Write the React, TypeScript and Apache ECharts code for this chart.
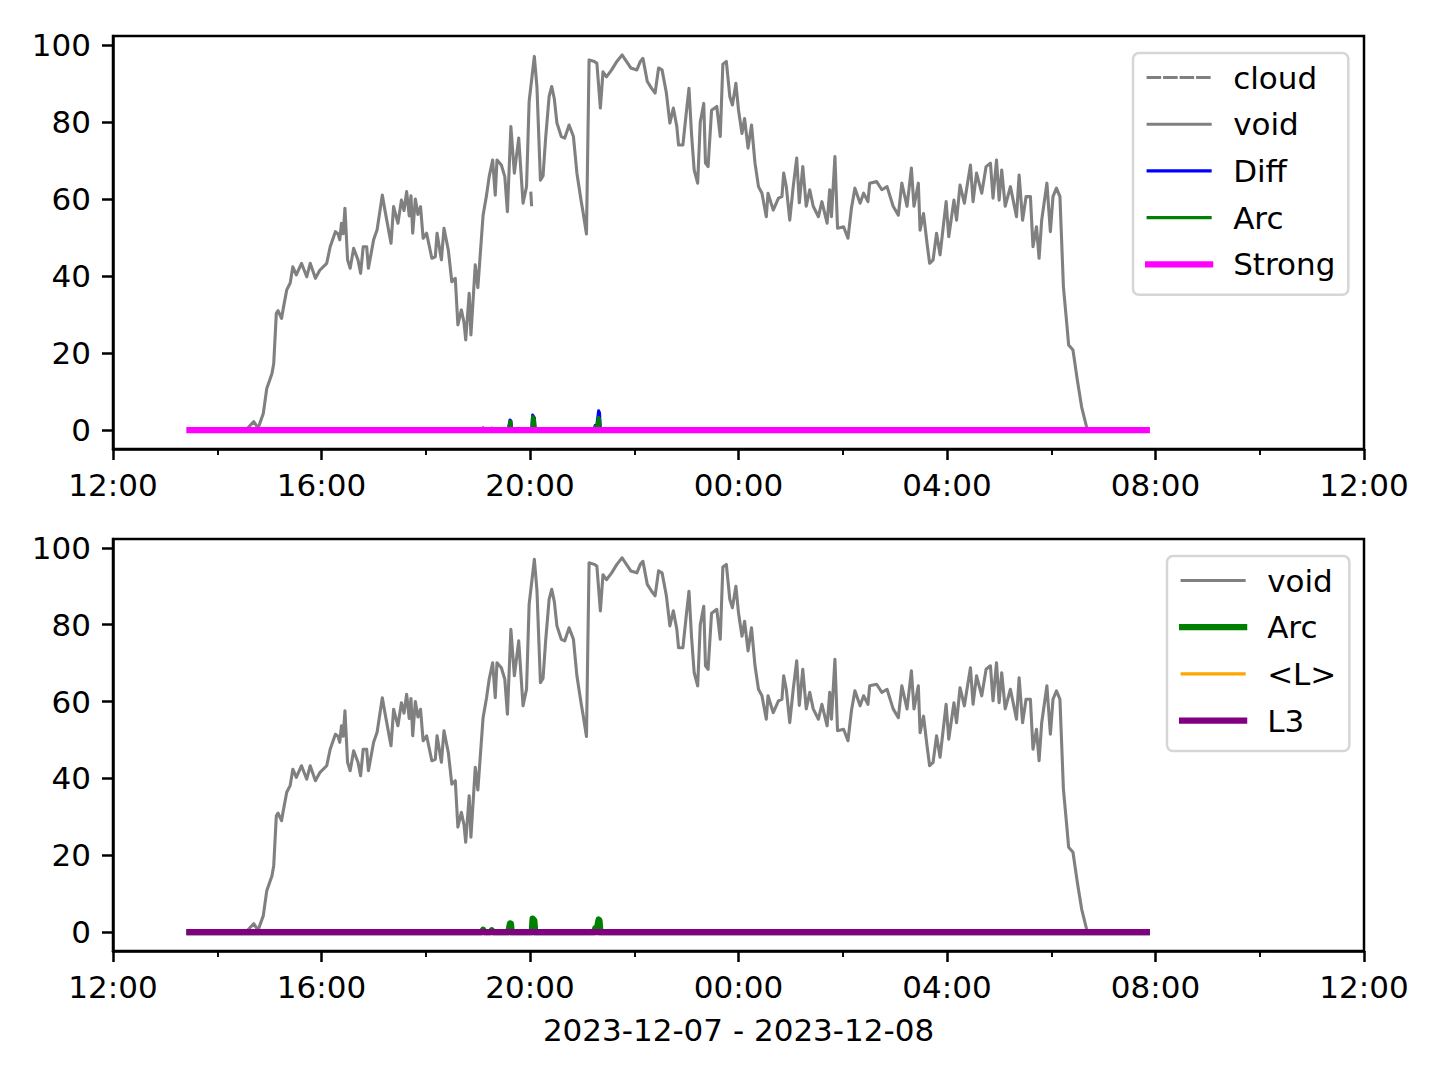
import React, { useEffect, useRef } from "react";
import * as echarts from "echarts";

// ---------- data ----------
const xTickLabels = ["12:00", "16:00", "20:00", "00:00", "04:00", "08:00", "12:00"];
const yTickValues = [0, 20, 40, 60, 80, 100];
const xAxisTitle = "2023-12-07 - 2023-12-08";

const voidTimes = [
  "13:28", "14:26", "14:34", "14:42", "14:47", "14:53", "14:57", "15:03", "15:05", "15:08",
  "15:10", "15:14", "15:16", "15:20", "15:24", "15:27", "15:31", "15:37", "15:43", "15:47",
  "15:53", "15:58", "16:06", "16:10", "16:16", "16:19", "16:21", "16:23", "16:25", "16:27",
  "16:30", "16:33", "16:37", "16:42", "16:45", "16:48", "16:52", "16:54", "17:00", "17:04",
  "17:10", "17:13", "17:20", "17:23", "17:28", "17:32", "17:35", "17:38", "17:41", "17:43",
  "17:45", "17:48", "17:51", "17:54", "17:57", "18:01", "18:07", "18:11", "18:13", "18:18",
  "18:21", "18:26", "18:30", "18:34", "18:37", "18:41", "18:44", "18:46", "18:50", "18:52",
  "18:57", "19:00", "19:06", "19:10", "19:13", "19:17", "19:20", "19:22", "19:27", "19:31",
  "19:34", "19:38", "19:42", "19:47", "19:52", "19:56", "19:59", "20:05", "20:08", "20:12",
  "20:15", "20:18", "20:22", "20:25", "20:28", "20:31", "20:36", "20:40", "20:45", "20:50",
  "20:54", "20:59", "21:01", "21:05", "21:06", "21:08", "21:14", "21:17", "21:21", "21:24",
  "21:28", "21:34", "21:40", "21:46", "21:51", "21:56", "22:03", "22:07", "22:10", "22:15",
  "22:20", "22:24", "22:28", "22:32", "22:37", "22:41", "22:45", "22:49", "22:51", "22:56",
  "23:00", "23:03", "23:06", "23:09", "23:13", "23:16", "23:20", "23:22", "23:25", "23:29",
  "23:35", "23:39", "23:42", "23:46", "23:50", "23:53", "23:57", "00:00", "00:04", "00:07",
  "00:11", "00:15", "00:19", "00:23", "00:27", "00:32", "00:34", "00:40", "00:46", "00:50",
  "00:52", "00:55", "00:59", "01:03", "01:07", "01:10", "01:14", "01:18", "01:22", "01:26",
  "01:32", "01:36", "01:42", "01:45", "01:47", "01:51", "01:54", "02:01", "02:06", "02:10",
  "02:14", "02:20", "02:24", "02:29", "02:31", "02:39", "02:45", "02:51", "02:58", "03:04",
  "03:08", "03:14", "03:19", "03:22", "03:27", "03:29", "03:33", "03:37", "03:40", "03:44",
  "03:48", "03:52", "03:59", "04:02", "04:08", "04:11", "04:15", "04:20", "04:23", "04:27",
  "04:30", "04:34", "04:40", "04:45", "04:50", "04:53", "04:57", "05:00", "05:03", "05:07",
  "05:13", "05:20", "05:23", "05:27", "05:31", "05:36", "05:39", "05:43", "05:46", "05:49",
  "05:55", "05:59", "06:02", "06:06", "06:10", "06:14", "06:18", "06:20", "06:25", "06:30",
  "06:35", "06:41", "06:42", "07:50",
];
const voidValues = [
  0, 0, 0.3, 2.2, 0.5, 4.3, 10.8, 14.7, 17.3, 30.3,
  31, 29, 31.6, 36.4, 38.2, 42.4, 40.3, 43.3, 39.8, 43.3,
  39.4, 41.5, 43.3, 47.6, 51.5, 51, 49.4, 53.7, 51, 57.6,
  44.2, 42, 47.2, 44.2, 40.7, 47.6, 47.6, 42, 49.4, 52,
  61, 57.1, 48.5, 58, 53.7, 59.7, 57, 61.9, 55.6, 60.8,
  51.1, 60, 56, 58, 49.8, 51.1, 44.6, 45, 51.1, 44.2,
  52.4, 46.7, 38.5, 39.4, 27.3, 31.2, 28, 23.4, 35.5, 24.7,
  42.9, 37, 55.8, 61, 65.8, 70.1, 61, 70.1, 68.8, 65.8,
  56.7, 78.8, 66.7, 75.8, 58.9, 63.2, 85.3, 97, 89, 64.9,
  66, 75.8, 86.6, 89.2, 86, 79.7, 76.2, 75.8, 79.2, 76.2,
  66.7, 59.3, 56.7, 50.9, 66, 96.1, 95.7, 95.2, 83.6, 93,
  91.7, 93.5, 95.7, 97.4, 95.7, 94, 93.5, 95.7, 96.5, 90.5,
  88.7, 87.5, 94, 93.5, 87.5, 79.7, 83.6, 78.8, 74, 74,
  82.6, 88.7, 76.6, 67.5, 64.1, 80, 84.8, 69.3, 68.4, 83,
  84, 76.2, 95, 95.7, 86.6, 84.4, 90, 83.1, 77, 80.9,
  73.2, 79.2, 69.3, 63.2, 61.5, 55.4, 61.5, 57.1, 60.2, 60.6,
  66.7, 63.2, 54.5, 63.2, 70.6, 59, 68.4, 58.1, 62.4, 58.1,
  55.4, 59.3, 53.7, 62.4, 55.4, 71, 52.4, 52.8, 49.8, 57.6,
  62.8, 58.9, 61.5, 59.3, 64.1, 64.5, 62.4, 63.2, 58.1, 55.8,
  64.1, 58.1, 68, 58.1, 64.1, 51.9, 56.2, 48.5, 43.3, 44.2,
  51.1, 45.5, 59.3, 50.2, 59.7, 54.5, 63.6, 58.9, 63.2, 68.8,
  59.3, 66.7, 61.5, 68.4, 69.3, 60.2, 70.1, 59.7, 67.5, 58.1,
  63.2, 55.4, 66.2, 54.5, 60.6, 60.6, 47.6, 52.8, 44.6, 54.5,
  64.1, 51.5, 60.6, 62.8, 60.6, 37.2, 27.3, 22.1, 20.8, 13,
  6, 0.5, 0, 0,
];

const cloudTimes = ["20:01", "20:02"];
const cloudValues = [61.5, 57.5];

const arcTimes = [
  "13:28", "19:04", "19:06", "19:08", "19:14", "19:16", "19:18", "19:35", "19:37", "19:38",
  "19:39", "20:02", "20:03", "20:05", "20:06", "21:14", "21:15", "21:17", "21:19", "21:20",
  "21:21", "07:50",
];
const arcValues = [
  0, 0, 0.6, 0, 0, 0.5, 0, 0, 2.3, 2.2,
  0, 0, 3.5, 3.0, 0, 0, 1.0, 1.0, 3.3, 3.0,
  0, 0,
];

const diffTimes = [
  "13:28", "19:35", "19:37", "19:38", "19:39", "20:02", "20:03", "20:05", "20:06", "21:14",
  "21:15", "21:17", "21:19", "21:20", "21:21", "07:50",
];
const diffValues = [
  0, 0, 2.6, 2.4, 0, 0, 3.9, 3.2, 0, 0,
  1.2, 1.4, 5.0, 4.5, 0, 0,
];

const flatTimes = ["13:28", "07:50"];
const strongValues = [0, 0];
const lAvgValues = [0, 0];
const l3Values = [0, 0];

// ---------- helpers ----------
const toMinutes = (t: string) => {
  const [h, m] = t.split(":").map(Number);
  return (h >= 12 ? h - 12 : h + 12) * 60 + m;
};
const pairs = (times: string[], values: number[]) =>
  times.map((t, i) => [toMinutes(t), values[i]]);

const FONT = "DejaVu Sans";
const FS = 31;

function xAxis(gridIndex: number, withName: boolean) {
  return {
    type: "value",
    gridIndex,
    min: 0,
    max: 1440,
    interval: 240,
    axisLine: { show: true, onZero: false, lineStyle: { color: "#000", width: 2.5 } },
    axisTick: { show: true, length: 11, lineStyle: { color: "#000", width: 2.5 } },
    minorTick: { show: true, splitNumber: 2, length: 6, lineStyle: { color: "#000", width: 1.9 } },
    splitLine: { show: false },
    minorSplitLine: { show: false },
    axisLabel: {
      margin: 20,
      fontSize: FS,
      fontFamily: FONT,
      color: "#000",
      formatter: (v: number) => xTickLabels[Math.round(v / 240)] ?? "",
    },
    name: withName ? xAxisTitle : "",
    nameLocation: "middle",
    nameGap: 63,
    nameTextStyle: { fontSize: FS, fontFamily: FONT, color: "#000" },
  };
}

function yAxis(gridIndex: number) {
  return {
    type: "value",
    gridIndex,
    min: -4.9,
    max: 102.3,
    axisLine: { show: true, onZero: false, lineStyle: { color: "#000", width: 2.5 } },
    axisTick: {
      show: true,
      length: 11,
      customValues: yTickValues,
      lineStyle: { color: "#000", width: 2.5 },
    },
    splitLine: { show: false },
    axisLabel: {
      margin: 22,
      fontSize: FS,
      fontFamily: FONT,
      color: "#000",
      customValues: yTickValues,
    },
  };
}

function line(name: string, data: number[][], idx: number, color: string, width: number, type: any = "solid") {
  return {
    type: "line",
    name,
    data,
    xAxisIndex: idx,
    yAxisIndex: idx,
    showSymbol: false,
    symbol: "none",
    silent: true,
    lineStyle: { color, width, type, cap: "square", join: "round" },
    itemStyle: { color },
  };
}

function legend(top: number, left: number, data: any[]) {
  return {
    orient: "vertical",
    left,
    top,
    data,
    selectedMode: false,
    itemWidth: 62,
    itemHeight: 14,
    itemGap: 15.7,
    padding: [9, 13, 15, 12],
    backgroundColor: "#ffffff",
    borderColor: "#d6d6d6",
    borderWidth: 2.5,
    borderRadius: 6,
    itemStyle: { opacity: 0 },
    lineStyle: { width: "inherit" },
    textStyle: {
      fontSize: FS,
      fontFamily: FONT,
      color: "#000",
      lineHeight: 31,
      padding: [0, 0, 0, 18],
    },
  };
}

export default function App() {
  const ref = useRef<HTMLDivElement>(null);

  useEffect(() => {
    if (!ref.current) return;
    const chart = echarts.init(ref.current, null, { renderer: "svg" });
    const voidData = pairs(voidTimes, voidValues);
    const arcData = pairs(arcTimes, arcValues);
    chart.setOption({
      animation: false,
      backgroundColor: "#ffffff",
      grid: [
        { left: 113, top: 36, width: 1251, height: 413, show: true, borderColor: "#000", borderWidth: 2.5 },
        { left: 113, top: 539, width: 1251, height: 412, show: true, borderColor: "#000", borderWidth: 2.5 },
      ],
      xAxis: [xAxis(0, false), xAxis(1, true)],
      yAxis: [yAxis(0), yAxis(1)],
      legend: [
        legend(53, 1133, ["cloud", "void", "Diff", "Arc", "Strong"]),
        legend(556, 1167, ["void", { name: "Arc", lineStyle: { width: 6.25 } }, "<L>", "L3"]),
      ],
      series: [
        line("cloud", pairs(cloudTimes, cloudValues), 0, "#808080", 3.1, [11.5, 5]),
        line("void", voidData, 0, "#808080", 3.1),
        line("Diff", pairs(diffTimes, diffValues), 0, "#0000ff", 3.1),
        line("Arc", arcData, 0, "#008000", 3.1),
        line("Strong", pairs(flatTimes, strongValues), 0, "#ff00ff", 6.25),
        line("void", voidData, 1, "#808080", 3.1),
        line("Arc", arcData, 1, "#008000", 6.25),
        line("<L>", pairs(flatTimes, lAvgValues), 1, "#ffa500", 3.1),
        line("L3", pairs(flatTimes, l3Values), 1, "#800080", 6.25),
      ],
    });
    return () => chart.dispose();
  }, []);

  return (
    <div
      ref={ref}
      style={{ position: "absolute", left: 0, top: 0, width: 1440, height: 1080, background: "#fff" }}
    />
  );
}
